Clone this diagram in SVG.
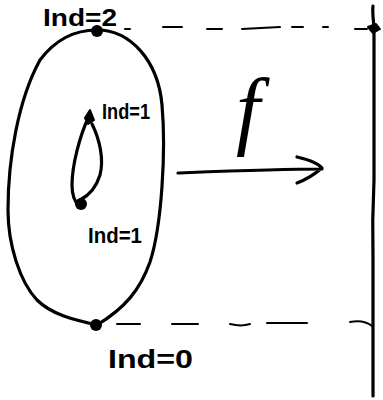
<svg xmlns="http://www.w3.org/2000/svg" width="383" height="400" viewBox="0 0 383 400">
<style>
.ln{fill:none;stroke:#000;stroke-linecap:round;stroke-linejoin:round}
.thick{stroke-width:3.2}
.thin{stroke-width:2}
.blob{fill:#000;stroke:#000;stroke-width:2;stroke-linejoin:round}
.lbl{font-family:"Liberation Sans",Arial,sans-serif;fill:#000;font-weight:bold}
</style>
<rect width="383" height="400" fill="#fff"/>
<g id="torus">
<path class="ln thick" d="M97,30 C130,30 158,60 162,105 C166,150 162,225 150,262 C140,290 125,308 97,325 C75,320 52,315 37,300 C20,282 8,245 8,210 C8,160 18,100 40,60 C55,40 75,30 97,30 Z"/>
</g>
<g id="inner-loop">
<path class="ln thick" d="M89,116 C80,135 72,165 72,185 C72,195 75,202 79,206"/>
<path class="ln thick" d="M92,124 C100,140 104,160 100,175 C96,188 88,196 80,200"/>
</g>
<g id="node-top">
<circle cx="97" cy="31" r="6"/>
<text class="lbl" x="43" y="26" font-size="23" textLength="74" lengthAdjust="spacingAndGlyphs">Ind=2</text>
</g>
<g id="node-inner-top">
<path class="blob" d="M90,110 L94,120 L88,124 L85,118 Z"/>
<text class="lbl" x="102" y="119" font-size="22" textLength="48" lengthAdjust="spacingAndGlyphs">Ind=1</text>
</g>
<g id="node-inner-bottom">
<circle cx="81" cy="204" r="6"/>
<text class="lbl" x="88" y="243" font-size="22" textLength="54" lengthAdjust="spacingAndGlyphs">Ind=1</text>
</g>
<g id="node-bottom">
<circle cx="96" cy="325" r="6"/>
<text class="lbl" x="108" y="368" font-size="26" textLength="85" lengthAdjust="spacingAndGlyphs">Ind=0</text>
</g>
<g id="line-R">
<path class="ln thick" d="M373,6 C372,14 374,22 374,30 L374,180 C373,200 372,220 373,260 L373,330 L373,396"/>
<path class="blob" d="M368,27 L376,24 L380,29 L373,33 Z"/>
</g>
<g id="connectors">
<path class="ln thin" d="M125,29 L130,29 M163,27 L182,27 M207,29 L222,29 M242,29 L280,27 M292,27 L303,27 M323,27 L328,27 M355,29 L367,29"/>
<path class="ln thin" d="M117,324 L140,324 M172,324 L198,324 M230,324 C238,326 244,326 250,324 M267,323 L307,323 M350,322 C360,320 367,322 372,326"/>
<path class="ln thick" d="M178,173 C230,171 280,169 322,169 M297,157 C310,160 318,163 322,168 C315,174 305,180 297,183"/>
<text x="236" y="138" font-family="'Liberation Serif',serif" font-style="italic" font-size="86">f</text>
</g>
</svg>
